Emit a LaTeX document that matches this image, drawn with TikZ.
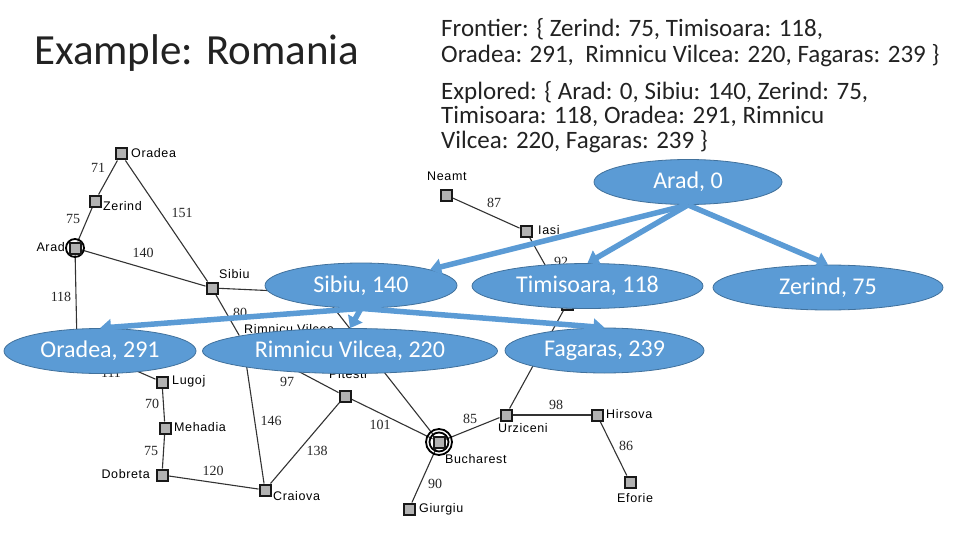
\documentclass[tikz,border=0pt]{standalone}
\usepackage{fontspec}
\setmainfont{Carlito}
\newfontfamily\maplabel[LetterSpace=5]{Liberation Sans}
\newfontfamily\mapnum{Liberation Serif}
\usetikzlibrary{shapes.geometric,arrows.meta}
\definecolor{tree}{HTML}{5B9BD5}
\definecolor{treeedge}{HTML}{41719C}
\definecolor{ink}{HTML}{222222}
\tikzset{
 x=1pt,y=-1pt,
 city/.style={draw=black!90,fill=black!30,line width=2pt,minimum size=11pt,inner sep=0pt,rectangle},
 road/.style={draw=black!80,line width=1.1pt},
 cname/.style={font=\maplabel\fontsize{12.5}{13}\selectfont,inner sep=0pt,text=black},
 dist/.style={font=\mapnum\fontsize{14}{14}\selectfont,inner sep=0pt,text=black!85},
 ring/.style={circle,draw=black,line width=1.8pt,fill=none,inner sep=0pt},
 tnode/.style={ellipse,draw=treeedge,line width=0.8pt,fill=tree,text=white,inner sep=0pt,font=\fontsize{24}{28}\selectfont,minimum height=45pt},
 tarrow/.style={draw=tree,line width=5.5pt,-{Triangle[width=16pt,length=11pt]},shorten >=0pt},
 body/.style={anchor=north west,inner sep=0pt,align=left,text=ink,font=\fontsize{25}{24.6}\selectfont},
}
\begin{document}
\begin{tikzpicture}
\useasboundingbox (0,0) rectangle (960,540);
% title and sets
\node[anchor=west,inner sep=0pt,text=ink,font=\fontsize{43}{48}\selectfont] (title) at (34,53) {Example: Romania};
\node[body] (frontier) at (441,18) {Frontier: \{ Zerind: 75, Timisoara: 118,\\[1.4pt]Oradea: 291, ~Rimnicu Vilcea: 220, Fagaras: 239 \}};
\node[body] (explored) at (441,81) {Explored: \{ Arad: 0, Sibiu: 140, Zerind: 75,\\Timisoara: 118, Oradea: 291, Rimnicu\\Vilcea: 220, Fagaras: 239 \}};
% map cities
\node[city] (oradea) at (121,154) {};
\node[city] (zerind) at (95,201) {};
\node[city] (arad) at (75,248) {};
\node[city] (sibiu) at (212,288) {};
\node[city] (lugoj) at (162,382) {};
\node[city] (mehadia) at (165,428) {};
\node[city] (dobreta) at (162,475) {};
\node[city] (craiova) at (265,490) {};
\node[city] (pitesti) at (345,396) {};
\node[city] (bucharest) at (439,442) {};
\node[city] (urziceni) at (506,415) {};
\node[city] (hirsova) at (597,415) {};
\node[city] (eforie) at (630,482) {};
\node[city] (giurgiu) at (409,509) {};
\node[city] (neamt) at (446,195) {};
\node[city] (iasi) at (526,231) {};
\node[city] (vaslui) at (567,304) {};
\node[city] (rimnicu) at (243,342) {};
\node[city] (fagaras) at (322,293) {};
\node[city] (timisoara) at (77,345) {};
% roads
\draw[road] (oradea) -- (zerind);
\draw[road] (zerind) -- (arad);
\draw[road] (oradea) -- (sibiu);
\draw[road] (arad) -- (sibiu);
\draw[road] (arad) -- (timisoara);
\draw[road] (timisoara) -- (lugoj);
\draw[road] (lugoj) -- (mehadia);
\draw[road] (mehadia) -- (dobreta);
\draw[road] (dobreta) -- (craiova);
\draw[road] (craiova) -- (pitesti);
\draw[road] (craiova) -- (rimnicu);
\draw[road] (sibiu) -- (rimnicu);
\draw[road] (rimnicu) -- (pitesti);
\draw[road] (pitesti) -- (bucharest);
\draw[road] (sibiu) -- (fagaras);
\draw[road] (fagaras) -- (bucharest);
\draw[road] (bucharest) -- (urziceni);
\draw[road] (bucharest) -- (giurgiu);
\draw[road] (urziceni) -- (hirsova);
\draw[road] (hirsova) -- (eforie);
\draw[road] (urziceni) -- (vaslui);
\draw[road] (vaslui) -- (iasi);
\draw[road] (iasi) -- (neamt);
\node[ring,minimum size=18pt] (aradring) at (arad) {};
\node[ring,minimum size=19pt] (buchring) at (bucharest) {};
\node[ring,minimum size=26pt] (buchring2) at (bucharest) {};
% redraw squares above roads
\foreach \c in {oradea,zerind,arad,sibiu,lugoj,mehadia,dobreta,craiova,pitesti,bucharest,urziceni,hirsova,eforie,giurgiu,neamt,iasi,vaslui}
  \node[city] at (\c) {};
% city names
\node[cname,anchor=west] (l1) at (131,153) {Oradea};
\node[cname,anchor=west] (l2) at (103,206) {Zerind};
\node[cname,anchor=east] (l3) at (65,247) {Arad};
\node[cname,anchor=west] (l4) at (219,274) {Sibiu};
\node[cname,anchor=west] (l5) at (244,329) {Rimnicu Vilcea};
\node[cname,anchor=west] (l6) at (172,381) {Lugoj};
\node[cname,anchor=west] (l7) at (174,427) {Mehadia};
\node[cname,anchor=east] (l8) at (150,474) {Dobreta};
\node[cname,anchor=west] (l9) at (273,496) {Craiova};
\node[cname,anchor=west] (l10) at (329,374) {Pitesti};
\node[cname,anchor=west] (l11) at (445,459) {Bucharest};
\node[cname,anchor=west] (l12) at (498,428) {Urziceni};
\node[cname,anchor=west] (l13) at (606,414) {Hirsova};
\node[cname,anchor=west] (l14) at (617,498) {Eforie};
\node[cname,anchor=west] (l15) at (419,509) {Giurgiu};
\node[cname,anchor=west] (l16) at (427,176) {Neamt};
\node[cname,anchor=west] (l17) at (538,230) {Iasi};
% distances
\node[dist] (d1) at (98,168) {71};
\node[dist] (d2) at (73,219) {75};
\node[dist] (d3) at (182,213) {151};
\node[dist] (d4) at (143,253) {140};
\node[dist] (d5) at (61,297) {118};
\node[dist] (d6) at (240,313) {80};
\node[dist] (d7) at (111,373) {111};
\node[dist] (d8) at (152,404) {70};
\node[dist] (d9) at (151,451) {75};
\node[dist] (d10) at (213,471) {120};
\node[dist] (d11) at (271,421) {146};
\node[dist] (d12) at (287,382) {97};
\node[dist] (d13) at (317,451) {138};
\node[dist] (d14) at (380,425) {101};
\node[dist] (d15) at (470,419) {85};
\node[dist] (d16) at (556,405) {98};
\node[dist] (d17) at (626,446) {86};
\node[dist] (d18) at (435,484) {90};
\node[dist] (d19) at (494,203) {87};
\node[dist] (d20) at (561,262) {92};
% search tree
\node[tnode,minimum width=188pt] (tarad) at (688,182) {Arad, 0};
\node[tnode,minimum width=192pt] (tsibiu) at (361,285.5) {Sibiu, 140};
\node[tnode,minimum width=231pt] (ttimi) at (587.5,286) {Timisoara, 118};
\node[tnode,minimum width=230pt] (tzerind) at (828,287.5) {Zerind, 75};
\node[tnode,minimum width=192pt] (torad) at (100,351) {Oradea, 291};
\node[tnode,minimum width=295pt] (trim) at (350,351) {Rimnicu Vilcea, 220};
\node[tnode,minimum width=199pt] (tfag) at (604.5,350.5) {Fagaras, 239};
\draw[tarrow] (tarad.south) -- (tsibiu.13);
\draw[tarrow] (tarad.south) -- (ttimi.north);
\draw[tarrow] (tarad.south) -- (tzerind.north);
\draw[tarrow] (tsibiu.south) -- (torad.north);
\draw[tarrow] (tsibiu.south) -- (trim.north);
\draw[tarrow] (tsibiu.south) -- (tfag.north);
\end{tikzpicture}
\end{document}
